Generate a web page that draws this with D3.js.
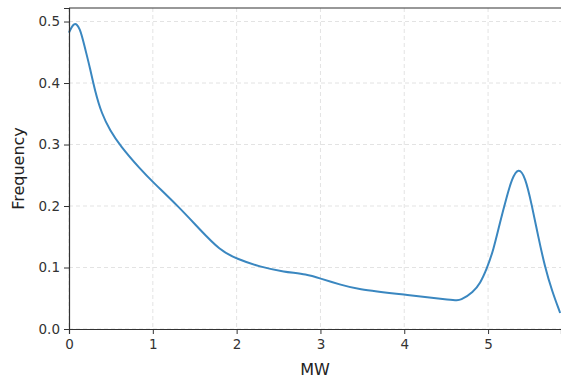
<!DOCTYPE html>
<html>
<head>
<meta charset="utf-8">
<script src="https://cdn.jsdelivr.net/npm/d3@7"></script>
<style>
  body { margin: 0; background: #fff; }
  text { font-family: "DejaVu Sans", sans-serif; }
</style>
</head>
<body>
<svg width="561" height="380"></svg>
<script>
// Density curve
var mw = [0, 0.06, 0.13, 0.19, 0.25, 0.31, 0.39, 0.49, 0.61, 0.85, 1.0, 1.3, 1.56, 1.8, 2.0, 2.28, 2.56, 2.84, 3.0, 3.24,
          3.42, 3.99, 4.6, 4.67, 4.825, 4.905, 4.985, 5.063, 5.143, 5.223, 5.283, 5.362, 5.442, 5.52, 5.6, 5.68, 5.76, 5.86];
var freq = [0.482, 0.500, 0.491, 0.457, 0.425, 0.387, 0.350, 0.323, 0.298, 0.260, 0.239, 0.200, 0.162, 0.128, 0.114, 0.101, 0.093, 0.089, 0.082, 0.072,
            0.065, 0.056, 0.0465, 0.046, 0.0605, 0.074, 0.098, 0.128, 0.174, 0.215, 0.244, 0.263, 0.248, 0.203, 0.149, 0.100, 0.063, 0.026];
var xTicks = [0, 1, 2, 3, 4, 5];
var yTicks = [0.0, 0.1, 0.2, 0.3, 0.4, 0.5];

var margin = { top: 8, right: 0, bottom: 51, left: 69 };
var width = 561 - margin.left - margin.right;
var height = 380 - margin.top - margin.bottom;

var svg = d3.select("svg");
var chart = svg.append("g")
    .attr("transform", "translate(" + margin.left + "," + margin.top + ")");

var x = d3.scaleLinear().domain([0, 5.87]).range([0, width]);
var y = d3.scaleLinear().domain([0, 0.522]).range([height, 0]);

// grid
chart.append("g").selectAll("line").data(xTicks).enter().append("line")
    .attr("x1", function(d) { return x(d); }).attr("x2", function(d) { return x(d); })
    .attr("y1", 0).attr("y2", height)
    .attr("stroke", "#e3e3e3").attr("stroke-dasharray", "4,3");
chart.append("g").selectAll("line").data(yTicks).enter().append("line")
    .attr("y1", function(d) { return y(d); }).attr("y2", function(d) { return y(d); })
    .attr("x1", 0).attr("x2", width)
    .attr("stroke", "#e3e3e3").attr("stroke-dasharray", "4,3");

// curve
var pts = mw.map(function(d, i) { return [d, freq[i]]; });
chart.append("path")
    .datum(pts)
    .attr("fill", "none")
    .attr("stroke", "#3a87c0")
    .attr("stroke-width", 2)
    .attr("d", d3.line()
        .x(function(d) { return x(d[0]); })
        .y(function(d) { return y(d[1]); })
        .curve(d3.curveBasis));

// axes
var xAxis = chart.append("g")
    .attr("transform", "translate(0," + height + ")")
    .call(d3.axisBottom(x).tickValues(xTicks).tickFormat(d3.format("d")).tickSizeOuter(0).tickSize(5).tickPadding(5));
var yAxis = chart.append("g")
    .call(d3.axisLeft(y).tickValues(yTicks).tickFormat(d3.format(".1f")).tickSizeOuter(0).tickSize(5).tickPadding(4));
[xAxis, yAxis].forEach(function(a) {
    a.select(".domain").attr("stroke", "#333").attr("stroke-width", 1.2);
    a.selectAll(".tick line").attr("stroke", "#333");
    a.selectAll(".tick text").attr("fill", "#333").style("font-size", "13.5px");
});
chart.append("line")
    .attr("x1", 0).attr("x2", width).attr("y1", 0).attr("y2", 0)
    .attr("stroke", "#333").attr("stroke-width", 1.2);

// labels
chart.append("text")
    .attr("x", width / 2).attr("y", height + 46)
    .attr("text-anchor", "middle")
    .attr("fill", "#222")
    .style("font-size", "16px")
    .text("MW");
chart.append("text")
    .attr("transform", "translate(" + (-45) + "," + (height / 2) + ") rotate(-90)")
    .attr("text-anchor", "middle")
    .attr("fill", "#222")
    .style("font-size", "16px")
    .text("Frequency");
</script>
</body>
</html>
